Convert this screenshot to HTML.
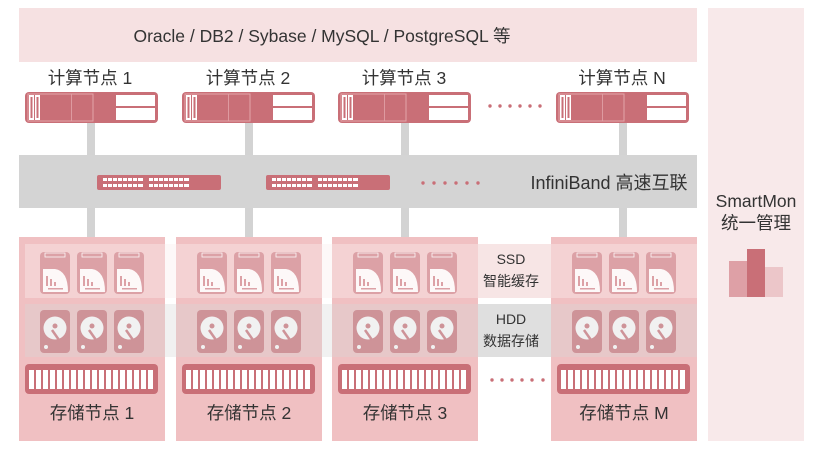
<!DOCTYPE html>
<html><head><meta charset="utf-8"><style>
body{margin:0;background:#fff;width:831px;height:458px;overflow:hidden}
svg text{font-family:"Liberation Sans","Noto Sans CJK SC",sans-serif;fill:#333}
</style></head><body>
<svg width="831" height="458" viewBox="0 0 831 458" xmlns="http://www.w3.org/2000/svg">
<defs>
<g id="srv">
<rect x="0" y="0" width="133" height="31" rx="4" fill="#c96f77"/>
<rect x="4" y="3" width="5" height="25" fill="#fff"/><rect x="10" y="3" width="5" height="25" fill="#fff"/>
<rect x="5.5" y="5" width="2" height="21" fill="#c96f77"/><rect x="11.5" y="5" width="2" height="21" fill="#c96f77"/>
<rect x="3" y="2" width="65" height="27" fill="none" stroke="#e3a5aa" stroke-width="1"/>
<rect x="46" y="2" width="0.8" height="27" fill="#e3a5aa"/>
<rect x="91" y="3" width="39" height="11" fill="#fff"/><rect x="91" y="16" width="39" height="12" fill="#fff"/>
</g>
<g id="sw">
<rect x="0" y="0" width="124" height="15" rx="2" fill="#c96f77"/>
<g fill="#fff">
<rect x="6" y="3" width="40" height="3"/><rect x="6" y="9" width="40" height="3"/>
<rect x="52" y="3" width="40" height="3"/><rect x="52" y="9" width="40" height="3"/>
</g>
<g fill="#c96f77"><rect x="10" y="2" width="1" height="11"/><rect x="15" y="2" width="1" height="11"/><rect x="20" y="2" width="1" height="11"/><rect x="25" y="2" width="1" height="11"/><rect x="30" y="2" width="1" height="11"/><rect x="35" y="2" width="1" height="11"/><rect x="40" y="2" width="1" height="11"/>
<rect x="56" y="2" width="1" height="11"/><rect x="61" y="2" width="1" height="11"/><rect x="66" y="2" width="1" height="11"/><rect x="71" y="2" width="1" height="11"/><rect x="76" y="2" width="1" height="11"/><rect x="81" y="2" width="1" height="11"/><rect x="86" y="2" width="1" height="11"/></g>
</g>
<g id="ssd">
<rect x="0" y="0" width="30" height="42" rx="4" fill="#c96f77"/>
<rect x="5" y="1" width="20" height="4" fill="none" stroke="#fff" stroke-width="0.8"/>
<path d="M3 17 L15 17 Q28 19 28 40 L3 40 Z" fill="#fff"/>
<g fill="#c96f77"><rect x="6" y="24" width="2" height="10"/><rect x="10" y="27" width="2" height="7"/><rect x="14" y="30" width="2" height="4"/>
<rect x="8" y="36" width="15" height="1.5"/></g>
</g>
<g id="hdd">
<rect x="0" y="0" width="30" height="43" rx="4" fill="#c96f77"/>
<circle cx="15" cy="18" r="11.5" fill="#fff"/>
<circle cx="15" cy="16" r="2.5" fill="#c96f77"/>
<path d="M12 20 L19 30" stroke="#c96f77" stroke-width="2.5"/>
<circle cx="6" cy="37" r="2" fill="#fff"/>
</g>
<g id="node">
<rect x="0" y="0" width="146" height="204" fill="#f0c0c2"/>
<use href="#ssd" x="21" y="15"/><use href="#ssd" x="58" y="15"/><use href="#ssd" x="95" y="15"/>
<use href="#hdd" x="21" y="73"/><use href="#hdd" x="58" y="73"/><use href="#hdd" x="95" y="73"/>
<rect x="6" y="127" width="133" height="30" rx="4" fill="#c96f77"/>
<g fill="#fff">
<rect x="10" y="133" width="5" height="19"/><rect x="17" y="133" width="5" height="19"/><rect x="24" y="133" width="5" height="19"/><rect x="31" y="133" width="5" height="19"/><rect x="38" y="133" width="5" height="19"/><rect x="45" y="133" width="5" height="19"/><rect x="52" y="133" width="5" height="19"/><rect x="59" y="133" width="5" height="19"/><rect x="66" y="133" width="5" height="19"/><rect x="73" y="133" width="5" height="19"/><rect x="80" y="133" width="5" height="19"/><rect x="87" y="133" width="5" height="19"/><rect x="94" y="133" width="5" height="19"/><rect x="101" y="133" width="5" height="19"/><rect x="108" y="133" width="5" height="19"/><rect x="115" y="133" width="5" height="19"/><rect x="122" y="133" width="5" height="19"/><rect x="129" y="133" width="5" height="19"/>
</g>
</g>
</defs>

<rect x="19" y="8" width="678" height="54" fill="#f6e1e2"/>
<text x="322" y="42" font-size="17.5" text-anchor="middle">Oracle / DB2 / Sybase / MySQL / PostgreSQL 等</text>
<rect x="708" y="8" width="96" height="433" fill="#f8e9ea"/>

<g fill="#d3d3d3">
<rect x="87" y="123" width="8" height="115"/><rect x="245" y="123" width="8" height="115"/>
<rect x="401" y="123" width="8" height="115"/><rect x="619" y="123" width="8" height="115"/>
</g>
<rect x="19" y="155" width="678" height="53" fill="#d4d4d4"/>
<use href="#sw" x="97" y="175"/><use href="#sw" x="266" y="175"/>
<g fill="#c96f77"><circle cx="423" cy="183" r="1.7"/><circle cx="434" cy="183" r="1.7"/><circle cx="445" cy="183" r="1.7"/><circle cx="456" cy="183" r="1.7"/><circle cx="467" cy="183" r="1.7"/><circle cx="478" cy="183" r="1.7"/></g>
<text x="609" y="189" font-size="18" text-anchor="middle">InfiniBand 高速互联</text>

<g font-size="17.5" text-anchor="middle">
<text x="90" y="84">计算节点 1</text><text x="248" y="84">计算节点 2</text>
<text x="404" y="84">计算节点 3</text><text x="622" y="84">计算节点 N</text>
</g>
<use href="#srv" x="25" y="92"/><use href="#srv" x="182" y="92"/><use href="#srv" x="338" y="92"/><use href="#srv" x="556" y="92"/>
<g fill="#c96f77"><circle cx="490" cy="106" r="1.7"/><circle cx="500" cy="106" r="1.7"/><circle cx="510" cy="106" r="1.7"/><circle cx="520" cy="106" r="1.7"/><circle cx="530" cy="106" r="1.7"/><circle cx="540" cy="106" r="1.7"/></g>

<use href="#node" x="19" y="237"/><use href="#node" x="176" y="237"/><use href="#node" x="332" y="237"/><use href="#node" x="551" y="237"/>
<rect x="478" y="244" width="73" height="54" fill="#f5dfe0"/>
<rect x="478" y="304" width="73" height="53" fill="#e4e4e4"/>
<rect x="25" y="244" width="672" height="54" fill="#fbeeee" opacity="0.4"/>
<rect x="25" y="304" width="672" height="53" fill="#d8d8d8" opacity="0.35"/>
<g font-size="14" text-anchor="middle">
<text x="511" y="264">SSD</text><text x="511" y="286">智能缓存</text>
<text x="511" y="324">HDD</text><text x="511" y="346">数据存储</text>
</g>
<g fill="#c96f77"><circle cx="492" cy="380" r="1.7"/><circle cx="502" cy="380" r="1.7"/><circle cx="512" cy="380" r="1.7"/><circle cx="522" cy="380" r="1.7"/><circle cx="532" cy="380" r="1.7"/><circle cx="543" cy="380" r="1.7"/></g>
<g font-size="17.5" text-anchor="middle">
<text x="92" y="419">存储节点 1</text><text x="249" y="419">存储节点 2</text>
<text x="405" y="419">存储节点 3</text><text x="624" y="419">存储节点 M</text>
</g>

<text x="756" y="207" font-size="17.5" text-anchor="middle">SmartMon</text>
<text x="756" y="229" font-size="17.5" text-anchor="middle">统一管理</text>
<rect x="729" y="261" width="18" height="36" fill="#dea0a6"/>
<rect x="765" y="267" width="18" height="30" fill="#ecc6c9"/>
<rect x="747" y="249" width="18" height="48" fill="#c96f77"/>
</svg>
</body></html>
